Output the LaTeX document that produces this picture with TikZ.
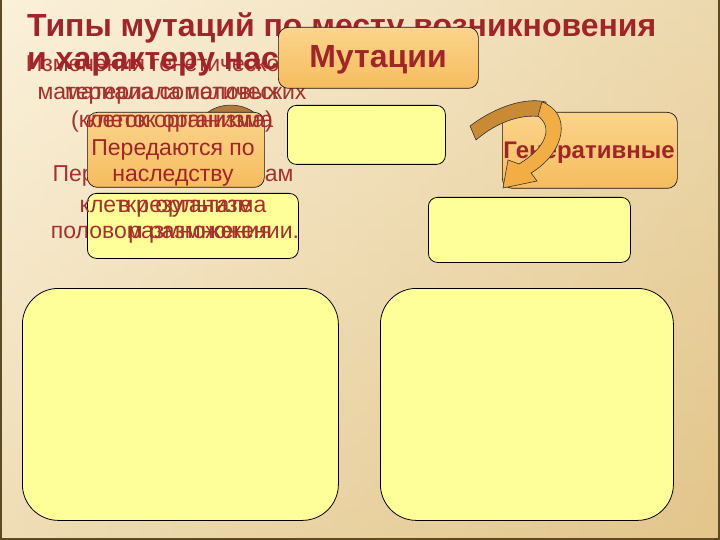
\documentclass[tikz,border=0pt]{standalone}
\usepackage{fontspec}
\setmainfont{Liberation Sans}
\definecolor{tred}{HTML}{A02428}
\definecolor{txt}{HTML}{A5302C}
\definecolor{yel}{HTML}{FFFF99}
\definecolor{orgtop}{HTML}{FBD48C}
\definecolor{orgbot}{HTML}{F6BC5E}
\definecolor{bgl}{HTML}{FBF1DA}
\definecolor{bgr}{HTML}{E2C58A}
\definecolor{frame}{HTML}{5C4A22}
\definecolor{arrbrown}{HTML}{C88A32}
\definecolor{arrorg}{HTML}{F2AE45}
\definecolor{blob}{HTML}{B27A3C}
\begin{document}
\begin{tikzpicture}[x=1pt,y=-1pt,
  ybox/.style={draw=black, line width=0.8pt, fill=yel, rounded corners=9pt, anchor=north west, inner sep=0pt},
  bigbox/.style={draw=black, line width=0.8pt, fill=yel, rounded corners=36pt, anchor=north west, inner sep=0pt},
  obox/.style={draw=black!85!brown, line width=0.7pt, top color=orgtop, bottom color=orgbot, rounded corners=10pt, anchor=north west, inner sep=0pt},
  ttl/.style={text=tred, font=\fontsize{32}{32}\selectfont\bfseries, anchor=base west, inner sep=0pt},
  reg/.style={text=txt, font=\fontsize{23}{23}\selectfont, anchor=base, inner sep=0pt},
  boxtext/.style={text=tred, font=\fontsize{23}{23}\selectfont, anchor=base, inner sep=0pt},
  head/.style={text=tred, font=\fontsize{32}{32}\selectfont\bfseries, anchor=base, inner sep=0pt},
  gen/.style={text=tred, font=\fontsize{24}{24}\selectfont\bfseries, anchor=base, inner sep=0pt},
  arrowpart/.style={draw=black!80, line width=0.6pt}
]
\useasboundingbox (0,0) rectangle (720,540);
% background
\shade[left color=bgl, right color=bgr] (0,0) rectangle (720,540);
\shade[top color=bgl, bottom color=bgr, opacity=0.45] (0,0) rectangle (720,540);
\draw[frame, line width=2.5pt] (1,0) -- (1,539) -- (719,539) -- (719,0);

% brown arrow piece hidden behind the left orange box
\path[arrowpart, fill=blob] (198,124) .. controls (210,100) and (246,99) .. (262,120) -- cycle;

% yellow boxes
\node[ybox, minimum width=158pt, minimum height=59pt] (y1) at (287,105) {};
\node[ybox, minimum width=211pt, minimum height=65pt] (y2) at (87,193) {};
\node[ybox, minimum width=202pt, minimum height=65pt] (y3) at (428,197) {};
\node[bigbox, minimum width=316pt, minimum height=232pt] (b1) at (22,288) {};
\node[bigbox, minimum width=293pt, minimum height=232pt] (b2) at (380,288) {};

% text layer under the orange boxes
\node[reg] (u1) at (163,72) {Изменения генетического};
\node[reg] (u2) at (172,100) {материала половых};
\node[reg] (u2b) at (172,100) {материала соматических};
\node[reg] (u5) at (173,182) {Передаются потомкам};
\node[reg] (u6) at (173,212) {клетки организма};
\node[reg] (u7) at (175,239) {половом размножении.};
\node[reg] (v6) at (185,212) {в результате};
\node[reg] (v7) at (200,239) {размножения};

% title
\node[ttl] (t1) at (27,37) {Типы мутаций по месту возникновения};
\node[ttl] (t2) at (27,70) {и характеру наследования};

% orange boxes
\node[obox, minimum width=200pt, minimum height=61pt] (mut) at (278,27) {};
\node[head] (mutt) at (378,68) {Мутации};
\node[obox, minimum width=177pt, minimum height=75pt] (per) at (87,112) {};
\node[boxtext] (pert1) at (173,156) {Передаются по};
\node[boxtext] (pert2) at (173,182) {наследству};
\node[obox, minimum width=175pt, minimum height=76pt] (gen) at (502,112) {};
\node[gen] (gent) at (589,159) {Генеративные};

% text layer above the orange box
\node[reg] (u3) at (172,128) {(клеток организма)};
\node[reg] (u3b) at (180,128) {клеток организма};

% curved arrow
\path[arrowpart, fill=arrbrown] (470,126) .. controls (495,107) and (525,97) .. (546,102)
  -- (547,118) .. controls (525,112) and (498,121) .. (476,140) -- cycle;
\path[arrowpart, fill=arrorg] (542,102) .. controls (572,113) and (566,152) .. (531,173)
  -- (537,181) -- (503,188) -- (508,160) -- (519,164)
  .. controls (547,147) and (553,127) .. (538,116) -- cycle;
\end{tikzpicture}
\end{document}
